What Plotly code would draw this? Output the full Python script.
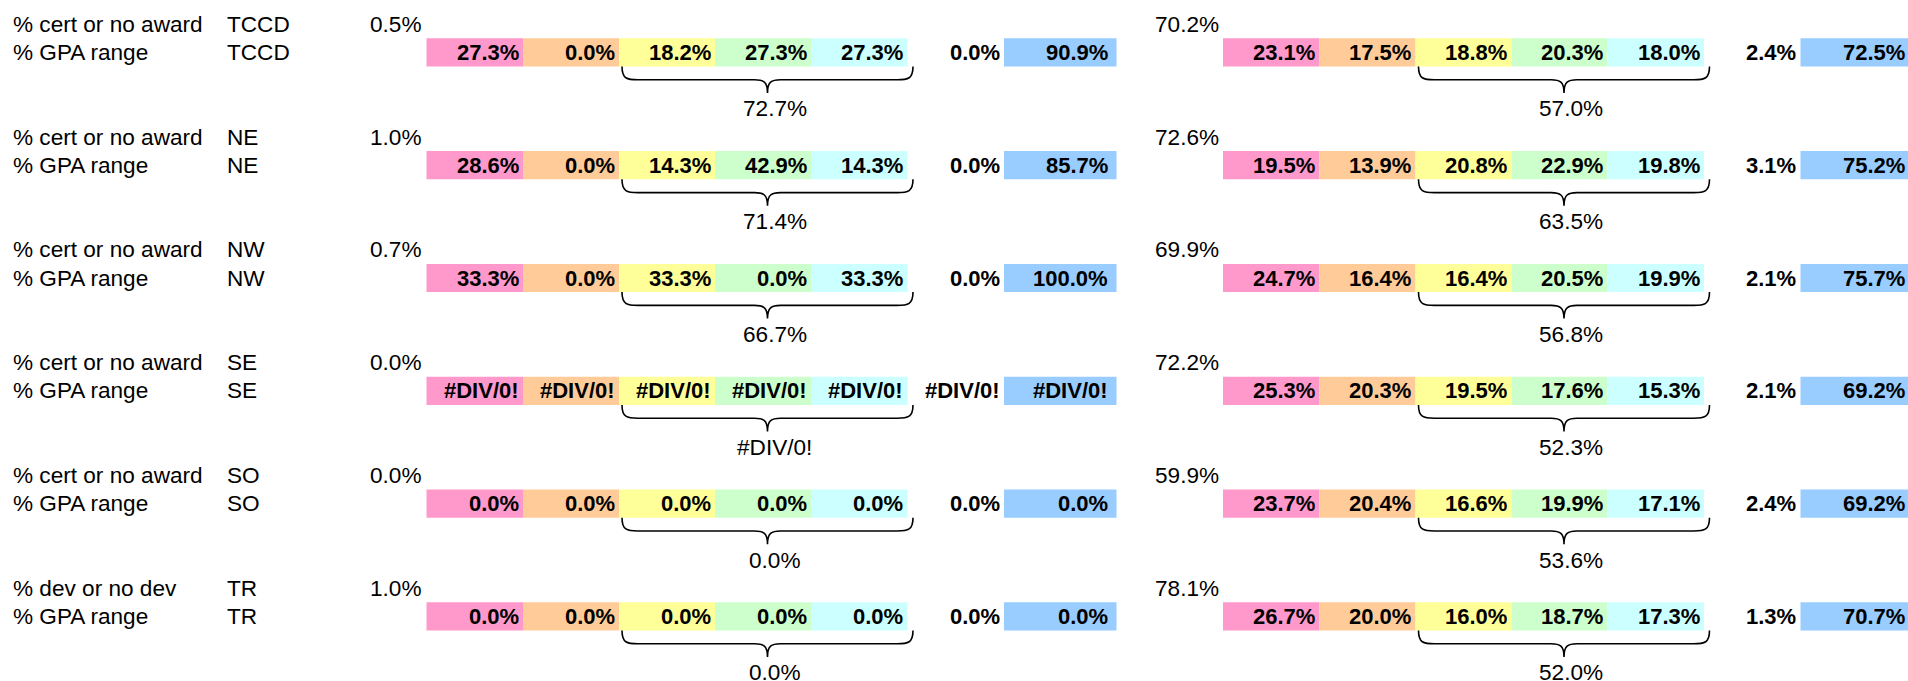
import plotly.graph_objects as go

# ---------------- data ----------------
regions = ["TCCD", "NE", "NW", "SE", "SO", "TR"]
row1_labels = ["% cert or no award", "% cert or no award", "% cert or no award",
               "% cert or no award", "% cert or no award", "% dev or no dev"]
row2_label = "% GPA range"

left_share = [0.5, 1.0, 0.7, 0.0, 0.0, 1.0]
right_share = [70.2, 72.6, 69.9, 72.2, 59.9, 78.1]

# None -> "#DIV/0!"
left_pink = [27.3, 28.6, 33.3, None, 0.0, 0.0]
left_orange = [0.0, 0.0, 0.0, None, 0.0, 0.0]
left_yellow = [18.2, 14.3, 33.3, None, 0.0, 0.0]
left_green = [27.3, 42.9, 0.0, None, 0.0, 0.0]
left_cyan = [27.3, 14.3, 33.3, None, 0.0, 0.0]
left_plain = [0.0, 0.0, 0.0, None, 0.0, 0.0]
left_blue = [90.9, 85.7, 100.0, None, 0.0, 0.0]
left_brace = [72.7, 71.4, 66.7, None, 0.0, 0.0]

right_pink = [23.1, 19.5, 24.7, 25.3, 23.7, 26.7]
right_orange = [17.5, 13.9, 16.4, 20.3, 20.4, 20.0]
right_yellow = [18.8, 20.8, 16.4, 19.5, 16.6, 16.0]
right_green = [20.3, 22.9, 20.5, 17.6, 19.9, 18.7]
right_cyan = [18.0, 19.8, 19.9, 15.3, 17.1, 17.3]
right_plain = [2.4, 3.1, 2.1, 2.1, 2.4, 1.3]
right_blue = [72.5, 75.2, 75.7, 69.2, 69.2, 70.7]
right_brace = [57.0, 63.5, 56.8, 52.3, 53.6, 52.0]

# ---------------- layout / style constants ----------------
W, H_FIG = 1908, 681
FONT = "Liberation Sans, Arial, sans-serif"
FS_REG = 22.6
FS_BOLD = 22
ROW_Y0 = 24.2     # centre of first spreadsheet row
ROW_H = 28.2      # row height
BLOCK_X0 = [426.5, 1223.0]
EDGES = [0, 96.5, 192.5, 288.5, 384.5, 481.0, 577.5, 690.0]
FILLS = ["#FF99CC", "#FFCC99", "#FFFF99", "#CCFFCC", "#CCFFFF", None, "#99CCFF"]
PAD = 4.5
BRACE_L, BRACE_R, BRACE_LABEL = 195.5, 486.5, 348.0
LABEL_X1, LABEL_X2 = 12.5, 227


def fmt(v):
    return "#DIV/0!" if v is None else f"{v:.1f}%"


def row_y(r):
    return ROW_Y0 + ROW_H * r


blocks = [
    dict(share=left_share, x0=BLOCK_X0[0],
         cols=[left_pink, left_orange, left_yellow, left_green, left_cyan, left_plain, left_blue],
         brace=left_brace),
    dict(share=right_share, x0=BLOCK_X0[1],
         cols=[right_pink, right_orange, right_yellow, right_green, right_cyan, right_plain, right_blue],
         brace=right_brace),
]

fig = go.Figure()
fig.add_trace(go.Scatter(x=[0], y=[0], mode="markers", marker=dict(opacity=0),
                         hoverinfo="skip", showlegend=False))

shapes = []
annotations = []


def text(x, y, s, anchor="left", bold=False):
    annotations.append(dict(
        x=x, y=y, xref="x", yref="y", text=f"<b>{s}</b>" if bold else s,
        showarrow=False, xanchor=anchor, yanchor="middle",
        borderpad=0, borderwidth=0,
        font=dict(family=FONT, size=FS_BOLD if bold else FS_REG, color="#000000")))


for g, reg in enumerate(regions):
    r_top = 4 * g
    r_bar = 4 * g + 1
    r_lab = 4 * g + 3
    y_top = row_y(r_top)
    y_bar = row_y(r_bar)
    bar_t = y_bar - ROW_H / 2
    bar_b = y_bar + ROW_H / 2

    text(LABEL_X1, y_top, row1_labels[g])
    text(LABEL_X2, y_top, reg)
    text(LABEL_X1, y_bar, row2_label)
    text(LABEL_X2, y_bar, reg)

    for b in blocks:
        x0 = b["x0"]
        text(x0 - PAD, y_top, fmt(b["share"][g]), anchor="right")
        ncol = len(b["cols"])
        for c, series in enumerate(b["cols"]):
            xl = x0 + EDGES[c]
            xr = x0 + EDGES[c + 1]
            xr_text = x0 + 686.0 if c == ncol - 1 else xr
            if FILLS[c]:
                shapes.append(dict(type="rect", xref="x", yref="y", x0=xl, x1=xr,
                                   y0=bar_t, y1=bar_b, fillcolor=FILLS[c],
                                   line=dict(width=0), layer="below"))
            text(xr_text - PAD, y_bar, fmt(series[g]), anchor="right", bold=True)

        # curly brace under yellow..cyan
        bl = x0 + BRACE_L
        br = x0 + BRACE_R
        bc = (bl + br) / 2
        yt = bar_b
        ym = bar_b + 13.3
        yp = bar_b + 26.5
        path = (f"M {bl},{yt} C {bl},{ym - 1} {bl + 5},{ym} {bl + 16},{ym} "
                f"L {bc - 13},{ym} C {bc - 4},{ym} {bc},{ym + 2} {bc},{yp} "
                f"C {bc},{ym + 2} {bc + 4},{ym} {bc + 13},{ym} "
                f"L {br - 16},{ym} C {br - 5},{ym} {br},{ym - 1} {br},{yt}")
        shapes.append(dict(type="path", xref="x", yref="y", path=path,
                           line=dict(color="#000000", width=1.6)))
        text(x0 + BRACE_LABEL, row_y(r_lab), fmt(b["brace"][g]), anchor="center")

fig.update_layout(
    width=W, height=H_FIG,
    margin=dict(l=0, r=0, t=0, b=0),
    paper_bgcolor="#FFFFFF", plot_bgcolor="#FFFFFF",
    xaxis=dict(range=[0, W], visible=False, fixedrange=True),
    yaxis=dict(range=[H_FIG, 0], visible=False, fixedrange=True),
    shapes=shapes, annotations=annotations,
    showlegend=False, hovermode=False,
)

fig.write_html("out.html", config={"displayModeBar": False},
               post_script="document.body.style.margin='0';document.body.style.overflow='hidden';")
